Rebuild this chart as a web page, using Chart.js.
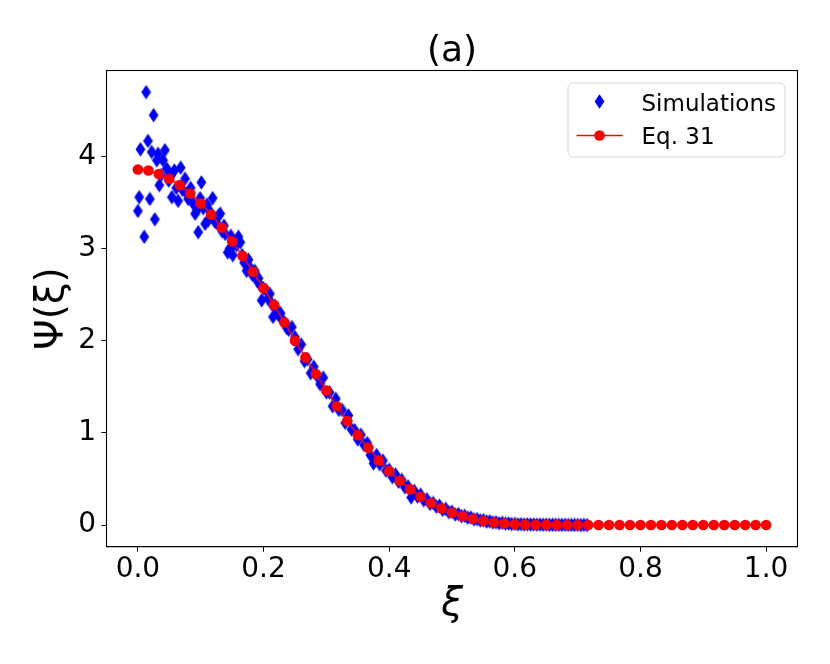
<!DOCTYPE html>
<html>
<head>
<meta charset="utf-8">
<script src="https://cdn.jsdelivr.net/npm/chart.js"></script>
<style>
  html, body { margin: 0; padding: 0; background: #fff; }
  #chart { display: block; }
</style>
</head>
<body>
<canvas id="chart" width="830" height="664"></canvas>
<script>
// --< data >--
const xTicks = [0, 0.2, 0.4, 0.6, 0.8, 1.0];
const yTicks = [0, 1, 2, 3, 4];

// Eq. 31 curve, 61 points on [0, 1]
const eqX = [0, 0.0167, 0.0333, 0.05, 0.0667, 0.0833, 0.1, 0.1167, 0.1333, 0.15,
  0.1667, 0.1833, 0.2, 0.2167, 0.2333, 0.25, 0.2667, 0.2833, 0.3, 0.3167,
  0.3333, 0.35, 0.3667, 0.3833, 0.4, 0.4167, 0.4333, 0.45, 0.4667, 0.4833,
  0.5, 0.5167, 0.5333, 0.55, 0.5667, 0.5833, 0.6, 0.6167, 0.6333, 0.65,
  0.6667, 0.6833, 0.7, 0.7167, 0.7333, 0.75, 0.7667, 0.7833, 0.8, 0.8167,
  0.8333, 0.85, 0.8667, 0.8833, 0.9, 0.9167, 0.9333, 0.95, 0.9667, 0.9833, 1.0];
const eqY = [3.86, 3.85, 3.81, 3.76, 3.69, 3.60, 3.49, 3.37, 3.23, 3.08,
  2.92, 2.75, 2.57, 2.39, 2.20, 2.00, 1.82, 1.64, 1.46, 1.29,
  1.13, 0.976, 0.838, 0.70, 0.585, 0.48, 0.387, 0.307, 0.238, 0.181,
  0.133, 0.098, 0.068, 0.045, 0.028, 0.017, 0.010, 0.006, 0.004, 0.002,
  0.001, 0, 0, 0, 0, 0, 0, 0, 0, 0,
  0, 0, 0, 0, 0, 0, 0, 0, 0, 0, 0];

// Simulations
const simX = [0.000, 0.002, 0.004, 0.010, 0.013, 0.016, 0.019, 0.022, 0.025, 0.027,
  0.030, 0.032, 0.034, 0.037, 0.040, 0.043, 0.046, 0.049, 0.052, 0.054,
  0.058, 0.061, 0.064, 0.068, 0.071, 0.075, 0.078, 0.080, 0.084, 0.087,
  0.091, 0.094, 0.096, 0.099, 0.101, 0.104, 0.107, 0.110, 0.112, 0.115,
  0.119, 0.122, 0.125, 0.128, 0.131, 0.134, 0.137, 0.139, 0.143, 0.146,
  0.148, 0.151, 0.154, 0.157, 0.160, 0.163, 0.166, 0.169, 0.173, 0.176,
  0.179, 0.182, 0.186, 0.189, 0.192, 0.195, 0.197, 0.200, 0.204, 0.207,
  0.210, 0.213, 0.215, 0.218, 0.221, 0.224, 0.227, 0.231, 0.234, 0.237,
  0.240, 0.245, 0.250, 0.255, 0.260, 0.265, 0.270, 0.275, 0.280, 0.285,
  0.290, 0.295, 0.300, 0.305, 0.310, 0.315, 0.320, 0.325, 0.330, 0.335,
  0.340, 0.345, 0.350, 0.355, 0.360, 0.365, 0.370, 0.375, 0.380, 0.385,
  0.390, 0.395, 0.400, 0.405, 0.410, 0.415, 0.420, 0.425, 0.430, 0.435,
  0.440, 0.445, 0.450, 0.455, 0.460, 0.465, 0.470, 0.475, 0.480, 0.485,
  0.490, 0.495, 0.500, 0.505, 0.510, 0.515, 0.520, 0.525, 0.530, 0.535,
  0.540, 0.545, 0.550, 0.555, 0.560, 0.565, 0.570, 0.575, 0.580, 0.585,
  0.590, 0.595, 0.600, 0.605, 0.610, 0.615, 0.620, 0.625, 0.630, 0.635,
  0.640, 0.645, 0.650, 0.655, 0.660, 0.665, 0.670, 0.675, 0.680, 0.685,
  0.690, 0.695, 0.700, 0.705, 0.710, 0.715];
const simY = [3.41, 3.56, 4.08, 3.13, 4.70, 4.17, 3.54, 4.05, 4.45, 3.32,
  3.96, 4.03, 3.69, 3.80, 3.96, 4.07, 3.87, 3.74, 3.79, 3.56,
  3.85, 3.66, 3.52, 3.88, 3.64, 3.76, 3.60, 3.54, 3.66, 3.50,
  3.38, 3.42, 3.18, 3.55, 3.72, 3.44, 3.27, 3.48, 3.31, 3.40,
  3.55, 3.30, 3.28, 3.36, 3.38, 3.19, 3.25, 3.16, 2.96, 3.00,
  3.14, 2.93, 3.06, 3.04, 3.13, 3.07, 2.93, 2.85, 2.76, 2.88,
  2.79, 2.72, 2.76, 2.66, 2.68, 2.60, 2.44, 2.57, 2.55, 2.46,
  2.51, 2.40, 2.26, 2.38, 2.34, 2.28, 2.30, 2.22, 2.19, 2.14,
  2.12, 2.15, 2.04, 1.91, 1.96, 1.78, 1.80, 1.65, 1.72, 1.62,
  1.53, 1.60, 1.44, 1.44, 1.29, 1.37, 1.25, 1.25, 1.11, 1.19,
  1.04, 1.03, 0.93, 0.98, 0.87, 0.89, 0.76, 0.67, 0.76, 0.66,
  0.70, 0.59, 0.60, 0.52, 0.55, 0.47, 0.49, 0.41, 0.42, 0.30,
  0.37, 0.31, 0.33, 0.27, 0.28, 0.23, 0.24, 0.20, 0.21, 0.165,
  0.175, 0.14, 0.145, 0.115, 0.12, 0.097, 0.10, 0.08, 0.082, 0.063,
  0.065, 0.05, 0.052, 0.038, 0.04, 0.028, 0.03, 0.02, 0.024, 0.015,
  0.017, 0.011, 0.013, 0.008, 0.010, 0.006, 0.008, 0.005, 0.006, 0.004,
  0.005, 0.003, 0.004, 0.002, 0.003, 0.002, 0.002, 0.001, 0.002, 0.001,
  0.001, 0.001, 0.001, 0.000, 0.001, 0.000];
// --</ data >--

Chart.defaults.font.family = "'DejaVu Sans', sans-serif";
Chart.defaults.color = '#000';

// thin diamond marker like matplotlib 'd'
function makeDiamond() {
  const c = document.createElement('canvas');
  c.width = 11; c.height = 15;
  const g = c.getContext('2d');
  g.fillStyle = '#0000ff';
  g.beginPath();
  g.moveTo(5.5, 0.3); g.lineTo(10.4, 7.5); g.lineTo(5.5, 14.7); g.lineTo(0.6, 7.5);
  g.closePath();
  g.fill();
  return c;
}
const diamond = makeDiamond();

function roundRect(ctx, x, y, w, h, r) {
  ctx.beginPath();
  ctx.moveTo(x + r, y);
  ctx.arcTo(x + w, y, x + w, y + h, r);
  ctx.arcTo(x + w, y + h, x, y + h, r);
  ctx.arcTo(x, y + h, x, y, r);
  ctx.arcTo(x, y, x + w, y, r);
  ctx.closePath();
}

// --< frame + legend >--
const framePlugin = {
  id: 'frame',
  afterDraw(chart) {
    const { ctx, chartArea: a } = chart;
    ctx.save();
    ctx.strokeStyle = '#000';
    ctx.lineWidth = 1.1;
    ctx.strokeRect(a.left, a.top, a.right - a.left, a.bottom - a.top);

    const lx = a.right - 230, ly = a.top + 12;
    roundRect(ctx, lx + 0.5, ly + 0.5, 217, 74, 5);
    ctx.fillStyle = 'rgba(255,255,255,0.8)';
    ctx.fill();
    ctx.strokeStyle = '#d6d6d6';
    ctx.lineWidth = 1;
    ctx.stroke();

    const mx = lx + 32;
    ctx.drawImage(diamond, mx - diamond.width / 2, ly + 19 - diamond.height / 2);
    ctx.strokeStyle = '#ff0000';
    ctx.lineWidth = 1.5;
    ctx.beginPath();
    ctx.moveTo(lx + 9, ly + 53); ctx.lineTo(lx + 55, ly + 53);
    ctx.stroke();
    ctx.fillStyle = '#ff0000';
    ctx.beginPath();
    ctx.arc(mx, ly + 53, 5.3, 0, Math.PI * 2);
    ctx.fill();

    ctx.fillStyle = '#000';
    ctx.font = "23px 'DejaVu Sans'";
    ctx.textBaseline = 'alphabetic';
    ctx.fillText('Simulations', lx + 74, ly + 28);
    ctx.fillText('Eq. 31', lx + 74, ly + 61);
    ctx.restore();
  }
};
// --</ frame + legend >--

new Chart(document.getElementById('chart'), {
  type: 'scatter',
  data: {
    datasets: [
      {
        label: 'Eq. 31',
        type: 'line',
        order: 0,
        data: eqX.map((x, i) => ({ x: x, y: eqY[i] })),
        borderColor: '#ff0000',
        backgroundColor: '#ff0000',
        borderWidth: 1.5,
        pointRadius: 5.3,
        pointBorderWidth: 0,
        pointBackgroundColor: '#ff0000',
        tension: 0,
        fill: false
      },
      {
        label: 'Simulations',
        order: 1,
        data: simX.map((x, i) => ({ x: x, y: simY[i] })),
        pointStyle: diamond,
        pointRadius: 5,
        showLine: false
      }
    ]
  },
  options: {
    responsive: false,
    devicePixelRatio: 1,
    animation: false,
    layout: { padding: { left: 0, right: 32.5, top: 0, bottom: 0 } },
    plugins: {
      legend: { display: false },
      tooltip: { enabled: false },
      title: {
        display: true,
        text: '(a)',
        fullSize: false,
        color: '#000',
        font: { size: 36, weight: 'normal', lineHeight: 0.9 },
        padding: { top: 35, bottom: 3.1 }
      }
    },
    scales: {
      x: {
        type: 'linear',
        min: -0.05,
        max: 1.05,
        afterBuildTicks: s => { s.ticks = xTicks.map(v => ({ value: v })); },
        afterFit: s => { s.height = 117.3; },
        ticks: {
          font: { size: 28, lineHeight: 1.2 },
          padding: 1,
          maxRotation: 0,
          callback: v => v.toFixed(1)
        },
        grid: { display: true, drawOnChartArea: false, drawTicks: true, tickLength: 5, color: '#000' },
        border: { display: true, color: '#000', width: 1 },
        title: {
          display: true,
          text: 'ξ',
          font: { size: 39, style: 'italic', lineHeight: 1.2 },
          padding: { top: 0, bottom: 36 }
        }
      },
      y: {
        type: 'linear',
        min: -0.235,
        max: 4.935,
        afterBuildTicks: s => { s.ticks = yTicks.map(v => ({ value: v })); },
        afterFit: s => { s.width = 106.5; },
        ticks: {
          font: { size: 28, lineHeight: 1.2 },
          padding: 5.5,
          callback: v => String(v)
        },
        grid: { display: true, drawOnChartArea: false, drawTicks: true, tickLength: 5, color: '#000' },
        border: { display: true, color: '#000', width: 1 },
        title: {
          display: true,
          text: 'Ψ(ξ)',
          font: { size: 39, lineHeight: 1.2 },
          padding: { top: 29, bottom: 0 }
        }
      }
    }
  },
  plugins: [framePlugin]
});
</script>
</body>
</html>
